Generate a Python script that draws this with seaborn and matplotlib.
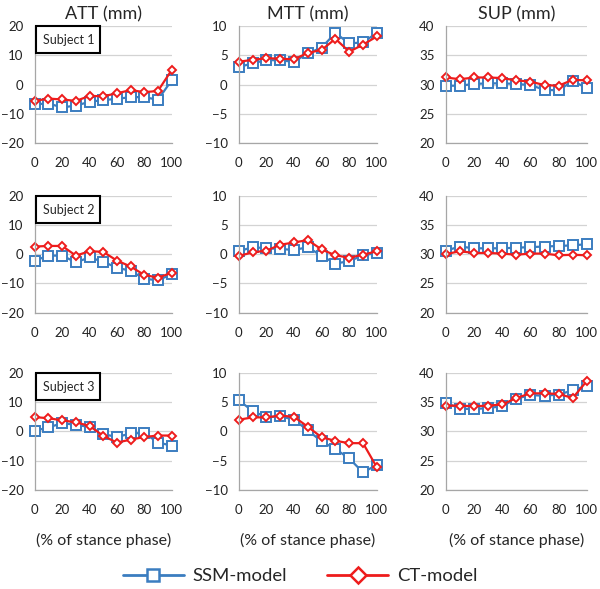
import matplotlib
matplotlib.use('Agg')
import matplotlib.pyplot as plt
import seaborn as sns
from matplotlib.patches import Rectangle
from matplotlib.lines import Line2D

# % of stance phase
stance = [0, 10, 20, 30, 40, 50, 60, 70, 80, 90, 100]

# Subject 1
att_ssm_1 = [-6.7, -6.5, -7.8, -7.2, -5.9, -5.3, -4.9, -4.3, -4.3, -5.2, 1.4]
att_ct_1 = [-5.6, -4.8, -5.1, -5.6, -3.9, -4.0, -3.0, -1.9, -2.6, -2.2, 4.9]
mtt_ssm_1 = [3.0, 3.6, 4.2, 4.1, 3.9, 5.3, 6.3, 8.8, 7.0, 7.2, 8.8]
mtt_ct_1 = [3.9, 4.2, 4.5, 4.4, 4.3, 5.4, 5.9, 7.8, 5.6, 6.8, 8.2]
sup_ssm_1 = [29.8, 29.8, 30.1, 30.2, 30.2, 30.1, 29.9, 29.1, 29.0, 30.6, 29.4]
sup_ct_1 = [31.2, 30.9, 31.2, 31.2, 31.1, 30.7, 30.5, 29.9, 29.8, 30.8, 30.7]

# Subject 2
att_ssm_2 = [-2.2, -0.5, -0.5, -2.8, -1.1, -2.6, -4.6, -5.7, -8.4, -8.9, -6.9]
att_ct_2 = [2.6, 2.8, 2.8, -0.5, 1.0, 0.8, -2.2, -4.2, -7.1, -8.0, -6.4]
mtt_ssm_2 = [0.5, 1.2, 1.0, 0.9, 0.7, 1.2, -0.3, -1.6, -1.2, -0.2, 0.2]
mtt_ct_2 = [-0.3, 0.3, 0.6, 1.6, 2.0, 2.4, 0.8, -0.2, -0.6, -0.1, 0.5]
sup_ssm_2 = [30.6, 31.3, 31.0, 31.0, 31.0, 31.1, 31.2, 31.3, 31.4, 31.5, 31.7]
sup_ct_2 = [30.0, 30.5, 30.2, 30.2, 30.1, 29.9, 30.1, 30.1, 29.8, 29.9, 29.8]

# Subject 3
att_ssm_3 = [0.2, 1.4, 2.8, 2.3, 1.5, -0.9, -1.9, -0.7, -0.5, -3.8, -4.8]
att_ct_3 = [4.9, 4.5, 3.8, 3.1, 1.9, -1.5, -3.8, -2.8, -1.9, -1.4, -1.4]
mtt_ssm_3 = [5.3, 3.5, 2.4, 2.6, 2.0, 0.2, -1.7, -3.0, -4.6, -7.0, -5.7]
mtt_ct_3 = [2.0, 2.4, 2.4, 2.7, 2.5, 0.8, -1.0, -1.6, -2.0, -2.0, -6.1]
sup_ssm_3 = [34.9, 33.9, 33.8, 34.0, 34.3, 35.6, 36.2, 36.1, 36.3, 37.0, 37.8]
sup_ct_3 = [34.4, 34.4, 34.3, 34.4, 34.6, 35.7, 36.5, 36.5, 36.4, 35.7, 38.6]

titles = ['ATT (mm)', 'MTT (mm)', 'SUP (mm)']
subjects = ['Subject 1', 'Subject 2', 'Subject 3']
y_ranges = [(-20, 20, 10), (-10, 10, 5), (20, 40, 5)]

rows = [
    [(att_ssm_1, att_ct_1), (mtt_ssm_1, mtt_ct_1), (sup_ssm_1, sup_ct_1)],
    [(att_ssm_2, att_ct_2), (mtt_ssm_2, mtt_ct_2), (sup_ssm_2, sup_ct_2)],
    [(att_ssm_3, att_ct_3), (mtt_ssm_3, mtt_ct_3), (sup_ssm_3, sup_ct_3)],
]

BLUE = '#3B7DC0'
RED = '#EE1C1C'

sns.set_style('white')
plt.rcParams['font.family'] = ['Lato', 'DejaVu Sans']

fig = plt.figure(figsize=(6.0, 5.89), dpi=100)

# axes positions in figure fractions (left, width) and (bottom)
col_pos = [(0.058, 0.228), (0.398, 0.230), (0.743, 0.235)]
row_bottom = [0.757, 0.469, 0.168]
height = 0.199


def style_axis(ax, ymin, ymax, step):
    ax.set_xlim(0, 100)
    ax.set_ylim(ymin, ymax)
    ax.set_yticks(list(range(ymin, ymax + 1, step)))
    ax.set_xticks([0, 20, 40, 60, 80, 100])
    for s in ['top', 'right']:
        ax.spines[s].set_visible(False)
    for s in ['left', 'bottom']:
        ax.spines[s].set_color('#A6A6A6')
        ax.spines[s].set_linewidth(0.9)
    ax.yaxis.grid(True, color='#D3D3D3', linewidth=0.9)
    ax.xaxis.grid(False)
    ax.set_axisbelow(True)
    ax.tick_params(axis='y', length=0, pad=8, labelsize=9.5, labelcolor='#222222')
    ax.tick_params(axis='x', direction='in', length=3, width=0.9, color='#A6A6A6',
                   pad=10, labelsize=9.5, labelcolor='#222222')
    ax.set_xlabel('')
    ax.set_ylabel('')


for r, row in enumerate(rows):
    for c, (ssm, ct) in enumerate(row):
        left, width = col_pos[c]
        ax = fig.add_axes([left, row_bottom[r], width, height])
        sns.lineplot(x=stance, y=ssm, ax=ax, color=BLUE, linewidth=1.6,
                     marker='s', markersize=6.5, markerfacecolor='white',
                     markeredgecolor=BLUE, markeredgewidth=1.4, clip_on=False)
        sns.lineplot(x=stance, y=ct, ax=ax, color=RED, linewidth=1.6,
                     marker='D', markersize=4.5, markerfacecolor='white',
                     markeredgecolor=RED, markeredgewidth=1.4, clip_on=False)
        ymin, ymax, step = y_ranges[c]
        style_axis(ax, ymin, ymax, step)
        if r == 0:
            ax.set_title(titles[c], fontsize=13, pad=5)
        if r == 2:
            ax.set_xlabel('(% of stance phase)', fontsize=11.5, labelpad=12)
        if c == 0:
            # subject label box
            ax.add_patch(Rectangle((0.01, 0.765), 0.47, 0.235, transform=ax.transAxes,
                                   facecolor='white', edgecolor='black', linewidth=1.5,
                                   clip_on=False, zorder=5))
            ax.text(0.245, 0.88, subjects[r], transform=ax.transAxes, ha='center',
                    va='center', fontsize=9, zorder=6)

handles = [
    Line2D([], [], color=BLUE, linewidth=2, marker='s', markersize=9,
           markerfacecolor='white', markeredgecolor=BLUE, markeredgewidth=1.8),
    Line2D([], [], color=RED, linewidth=2, marker='D', markersize=8,
           markerfacecolor='white', markeredgecolor=RED, markeredgewidth=1.8),
]
fig.legend(handles, ['SSM-model', 'CT-model'], loc='center', bbox_to_anchor=(0.5, 0.022),
           ncol=2, frameon=False, fontsize=13.3, handlelength=3.3, handletextpad=0.45,
           columnspacing=2.2)

fig.savefig('out.png', dpi=100)
